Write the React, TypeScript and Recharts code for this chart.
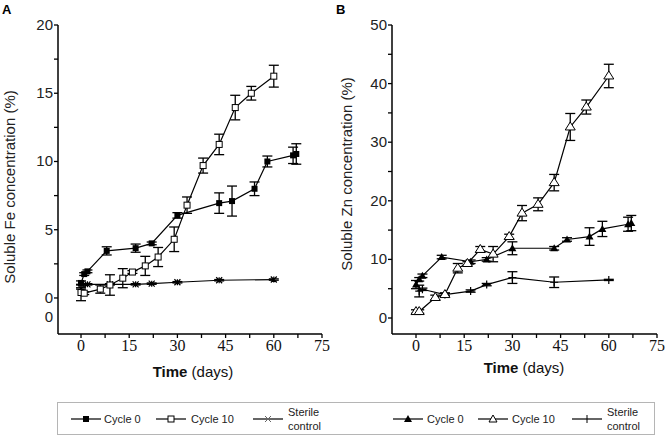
import { ErrorBar, Line, LineChart, XAxis, YAxis } from "recharts";

// Panel A — soluble Fe (%)
const feDays0 = [0, 1, 2, 8, 17, 22, 30, 43, 47, 54, 58, 66, 67];
const feCycle0 = [1.1, 1.75, 1.95, 3.45, 3.65, 4.0, 6.05, 6.95, 7.1, 8.0, 10.0, 10.45, 10.55];
const feCycle0Err = [0.15, 0.1, 0.1, 0.3, 0.3, 0.1, 0.2, 0.75, 1.1, 0.5, 0.4, 0.6, 0.75];

const feDays10 = [0, 1, 6, 9, 13, 16, 20, 24, 29, 33, 38, 43, 48, 53, 60];
const feCycle10 = [0.4, 0.35, 0.65, 0.95, 1.45, 1.9, 2.35, 3.0, 4.3, 6.8, 9.7, 11.25, 13.95, 15.0, 16.25];
const feCycle10Err = [0.6, 0.1, 0.3, 0.75, 0.7, 0.1, 0.7, 0.7, 0.9, 0.6, 0.55, 0.75, 0.9, 0.5, 0.8];

const feDaysSterile = [0, 2, 9, 17, 22, 30, 43, 60];
const feSterile = [0.7, 1.0, 1.0, 1.0, 1.05, 1.15, 1.3, 1.35];
const feSterileErr = [0.05, 0.05, 0.05, 0.05, 0.05, 0.05, 0.05, 0.05];

// Panel B — soluble Zn (%)
const znDays0 = [0, 1, 2, 8, 17, 22, 30, 43, 47, 54, 58, 66, 67];
const znCycle0 = [5.7, 6.6, 7.2, 10.4, 9.6, 10.0, 11.9, 11.9, 13.4, 13.9, 15.2, 16.0, 16.2];
const znCycle0Err = [0.7, 0.3, 0.3, 0.3, 0.3, 0.3, 1.1, 0.3, 0.3, 1.5, 1.3, 1.2, 1.3];

const znDays10 = [0, 1, 6, 9, 13, 16, 20, 24, 29, 33, 38, 43, 48, 53, 60];
const znCycle10 = [1.1, 1.1, 3.5, 4.0, 8.5, 9.3, 11.7, 10.9, 13.9, 17.9, 19.4, 23.1, 32.6, 36.0, 41.3];
const znCycle10Err = [0.3, 0.3, 0.4, 0.3, 0.8, 0.3, 0.5, 1.3, 0.4, 1.3, 1.1, 1.4, 2.3, 1.2, 2.0];

const znDaysSterile = [1, 2, 9, 17, 22, 30, 43, 60];
const znSterile = [4.6, 4.9, 4.0, 4.6, 5.7, 6.9, 6.1, 6.5];
const znSterileErr = [1.0, 0.2, 0.2, 0.2, 0.2, 1.0, 0.9, 0.1];

const xTicks = [0, 7.5, 15, 22.5, 30, 37.5, 45, 52.5, 60, 67.5, 75];
const feTicks = [-1.4, 0, 2.5, 5, 7.5, 10, 12.5, 15, 17.5, 20];
const znTicks = [0, 5, 10, 15, 20, 25, 30, 35, 40, 45, 50];

const SANS = "'Liberation Sans', Arial, sans-serif";
const SERIF = "'Liberation Serif', 'Times New Roman', serif";

const rows = (d: number[], v: number[], e: number[]) =>
  d.map((day, i) => ({ day, value: v[i], err: e[i] }));

const filledSquare = (p: any) => (
  <rect key={p.index} x={p.cx - 3} y={p.cy - 3} width={6} height={6} fill="#000" />
);
const openSquare = (p: any) => (
  <rect key={p.index} x={p.cx - 3} y={p.cy - 3} width={6} height={6} fill="#fff" stroke="#000" strokeWidth={1} />
);
const asterisk = (p: any) => (
  <path
    key={p.index}
    d={`M${p.cx - 3},${p.cy - 3}L${p.cx + 3},${p.cy + 3}M${p.cx - 3},${p.cy + 3}L${p.cx + 3},${p.cy - 3}M${p.cx},${p.cy - 3}L${p.cx},${p.cy + 3}`}
    stroke="#000"
    strokeWidth={1.2}
  />
);
const filledTri = (p: any) => (
  <path key={p.index} d={`M${p.cx},${p.cy - 4}L${p.cx + 4},${p.cy + 3}L${p.cx - 4},${p.cy + 3}Z`} fill="#000" />
);
const openTri = (p: any) => (
  <path
    key={p.index}
    d={`M${p.cx},${p.cy - 5}L${p.cx + 5},${p.cy + 3}L${p.cx - 5},${p.cy + 3}Z`}
    fill="#fff"
    stroke="#000"
    strokeWidth={1}
  />
);
const plus = (p: any) => (
  <path
    key={p.index}
    d={`M${p.cx - 4},${p.cy}L${p.cx + 4},${p.cy}M${p.cx},${p.cy - 4}L${p.cx},${p.cy + 4}`}
    stroke="#000"
    strokeWidth={1.2}
  />
);

// x ticks: serif labels on the multiples of 15, short marks everywhere
const XTick = (p: any) => {
  const v = p.payload.value;
  return (
    <g>
      <line x1={p.x} x2={p.x} y1={p.y - 6} y2={p.y - 2} stroke="#000" strokeWidth={1.3} />
      {v % 15 === 0 && (
        <text x={p.x} y={p.y + 11} textAnchor="middle" fontFamily={SERIF} fontSize={16} fill="#111">
          {v}
        </text>
      )}
    </g>
  );
};

// the odd negative tick is the stray second "0" under panel A's axis
const makeYTick = (step: number) => (p: any) => {
  const v = p.payload.value;
  const odd = v < 0;
  return (
    <g>
      {!odd && <line x1={p.x + 1} x2={p.x + 5} y1={p.y} y2={p.y} stroke="#000" strokeWidth={1.3} />}
      {(odd || v % step === 0) && (
        <text x={p.x} y={p.y + 5} textAnchor="end" fontFamily={SANS} fontSize={15} fill="#222">
          {odd ? 0 : v}
        </text>
      )}
    </g>
  );
};

type Series = { data: any[]; dot: any };

function Panel(props: {
  width: number;
  yWidth: number;
  right: number;
  yDomain: [number, number];
  xDomain: [number, number];
  yTicks: number[];
  step: number;
  series: Series[];
}) {
  return (
    <LineChart
      width={props.width}
      height={390}
      margin={{ top: 25, right: props.right, bottom: 0, left: 0 }}
    >
      <XAxis
        dataKey="day"
        type="number"
        domain={props.xDomain}
        allowDataOverflow
        ticks={xTicks}
        interval={0}
        height={56}
        tickSize={4}
        tickMargin={2}
        tickLine={false}
        axisLine={{ stroke: "#000", strokeWidth: 1.5 }}
        tick={XTick}
      />
      <YAxis
        type="number"
        domain={props.yDomain}
        allowDataOverflow
        ticks={props.yTicks}
        interval={0}
        width={props.yWidth}
        tickSize={4}
        tickMargin={1}
        tickLine={false}
        axisLine={{ stroke: "#000", strokeWidth: 1.5 }}
        tick={makeYTick(props.step)}
      />
      {props.series.map((s, i) => (
        <Line
          key={i}
          data={s.data}
          dataKey="value"
          stroke="#000"
          strokeWidth={1.2}
          dot={s.dot}
          activeDot={false}
          isAnimationActive={false}
        >
          <ErrorBar dataKey="err" direction="y" width={5} stroke="#000" strokeWidth={1.3} isAnimationActive={false} />
        </Line>
      ))}
    </LineChart>
  );
}

const legendSwatch = (marker: any) => (
  <svg width={30} height={12} style={{ display: "block" }}>
    <line x1={0} x2={30} y1={6} y2={6} stroke="#000" strokeWidth={1.2} />
    {marker}
  </svg>
);

const legendItems = [
  { sw: 70, tx: 103, label: "Cycle 0", m: <rect x={12} y={3} width={6} height={6} fill="#000" /> },
  { sw: 155, tx: 190, label: "Cycle 10", m: <rect x={12} y={3} width={6} height={6} fill="#fff" stroke="#000" /> },
  { sw: 252, tx: 287, label: "Sterile control", m: <path d="M12,3L18,9M12,9L18,3" stroke="#666" strokeWidth={1} /> },
  { sw: 392, tx: 426, label: "Cycle 0", m: <path d="M15,2L19,9L11,9Z" fill="#000" /> },
  { sw: 477, tx: 511, label: "Cycle 10", m: <path d="M15,2L19,9L11,9Z" fill="#fff" stroke="#000" /> },
  { sw: 571, tx: 606, label: "Sterile control", m: <path d="M15,2L15,10" stroke="#000" strokeWidth={1} /> },
];

export default function App() {
  return (
    <div style={{ position: "absolute", left: 0, top: 0, width: 666, height: 437, background: "#fff" }}>
      <div style={{ position: "absolute", left: 0, top: 0 }}>
        <Panel
          width={330}
          yWidth={58}
          right={8}
          yDomain={[-2.64, 20]}
          xDomain={[-7.16, 75]}
          yTicks={feTicks}
          step={5}
          series={[
            { data: rows(feDaysSterile, feSterile, feSterileErr), dot: asterisk },
            { data: rows(feDays0, feCycle0, feCycle0Err), dot: filledSquare },
            { data: rows(feDays10, feCycle10, feCycle10Err), dot: openSquare },
          ]}
        />
      </div>
      <div style={{ position: "absolute", left: 330, top: 0 }}>
        <Panel
          width={336}
          yWidth={62}
          right={9}
          yDomain={[-2.73, 50]}
          xDomain={[-7.47, 75]}
          yTicks={znTicks}
          step={10}
          series={[
            { data: rows(znDaysSterile, znSterile, znSterileErr), dot: plus },
            { data: rows(znDays0, znCycle0, znCycle0Err), dot: filledTri },
            { data: rows(znDays10, znCycle10, znCycle10Err), dot: openTri },
          ]}
        />
      </div>

      <svg width={666} height={400} style={{ position: "absolute", left: 0, top: 0, pointerEvents: "none" }}>
        <text x={2} y={14} fontFamily={SANS} fontSize={13} fontWeight="bold">A</text>
        <text x={336} y={14} fontFamily={SANS} fontSize={13} fontWeight="bold">B</text>
        <text transform="translate(15,187) rotate(-90)" textAnchor="middle" fontFamily={SANS} fontSize={15} fill="#222">
          Soluble Fe concentration (%)
        </text>
        <text transform="translate(352,174) rotate(-90)" textAnchor="middle" fontFamily={SANS} fontSize={15} fill="#222">
          Soluble Zn concentration (%)
        </text>
        <text x={193} y={377} textAnchor="middle" fontFamily={SANS} fontSize={15} fill="#111">
          <tspan fontWeight="bold">Time</tspan> (days)
        </text>
        <text x={524} y={373} textAnchor="middle" fontFamily={SANS} fontSize={15} fill="#111">
          <tspan fontWeight="bold">Time</tspan> (days)
        </text>
      </svg>

      <div
        style={{
          position: "absolute",
          left: 57,
          top: 402,
          width: 596,
          height: 31,
          border: "1px solid #b5b5b5",
          fontFamily: SANS,
          fontSize: 11,
          color: "#222",
        }}
      >
        {legendItems.map((it, i) => (
          <div key={i}>
            <div style={{ position: "absolute", left: it.sw - 57, top: 10 }}>{legendSwatch(it.m)}</div>
            {it.label === "Sterile control" ? (
              <div style={{ position: "absolute", left: it.tx - 57, top: 2, lineHeight: "14px" }}>
                Sterile
                <br />
                control
              </div>
            ) : (
              <div style={{ position: "absolute", left: it.tx - 57, top: 9, lineHeight: "14px" }}>{it.label}</div>
            )}
          </div>
        ))}
      </div>
    </div>
  );
}
